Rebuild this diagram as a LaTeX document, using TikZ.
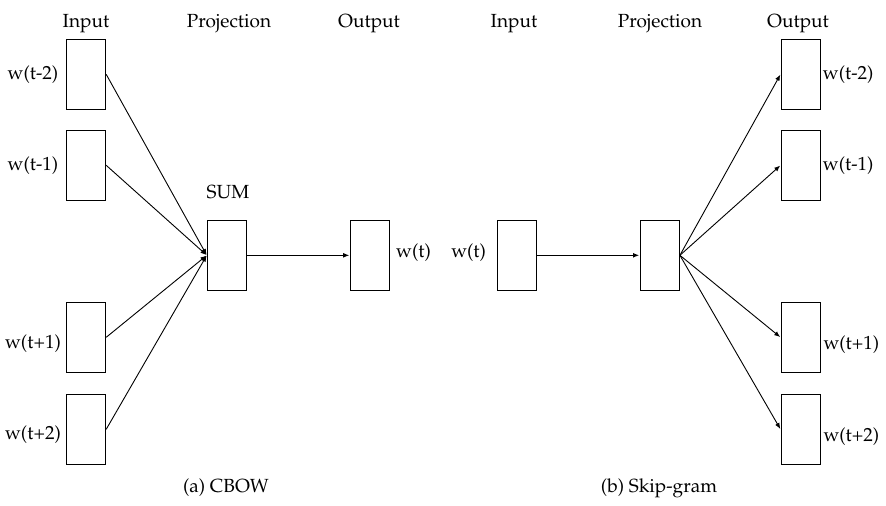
\documentclass[tikz,border=0pt]{standalone}
\IfFileExists{t1ppl.fd}{%
  \usepackage[T1]{fontenc}
  \renewcommand{\rmdefault}{ppl}
  \newcommand{\figfont}{\fontsize{9.5}{11}\selectfont}
}{%
  \usepackage{fontspec}
  \setmainfont{Liberation Serif}
  \newcommand{\figfont}{\fontsize{10.4}{12}\selectfont}
}
\usetikzlibrary{arrows.meta}
\tikzset{
  wbox/.style={draw, line width=0.5pt, minimum width=19.7pt, minimum height=35pt, inner sep=0pt},
  txt/.style={inner sep=0pt, font=\figfont},
  conn/.style={line width=0.45pt, -{Latex[length=3pt,width=2.4pt]}, shorten >=0.2pt}
}
\begin{document}
\begin{tikzpicture}[x=0.5pt,y=-0.5pt]
\useasboundingbox (0,0) rectangle (886,505);
% ---------- (a) CBOW ----------
\node[wbox] (i1) at (86,74.3) {};
\node[wbox] (i2) at (86,165.3) {};
\node[wbox] (i3) at (86,337.3) {};
\node[wbox] (i4) at (86,429.3) {};
\node[wbox] (sum) at (227,255.3) {};
\node[wbox] (out) at (369.8,255.3) {};
\node[txt] (li1) at (33,75) {w(t-2)};
\node[txt] (li2) at (33,166) {w(t-1)};
\node[txt] (li3) at (33,344) {w(t+1)};
\node[txt] (li4) at (33,435) {w(t+2)};
\node[txt, anchor=west] (lout) at ([xshift=2.9pt,yshift=1.2pt]out.east) {w(t)};
\node[txt, anchor=base] (hin) at (86,27.7) {Input};
\node[txt, anchor=base] (hpr) at (229,27.7) {Projection};
\node[txt, anchor=base] (hout) at (369,27.7) {Output};
\node[txt, anchor=base] (lsum) at (228,198.3) {SUM};
\node[txt, anchor=base] (capa) at (226,492.5) {(a) CBOW};
\draw[conn] (i1.east) -- (sum.west);
\draw[conn] (i2.east) -- (sum.west);
\draw[conn] (i3.east) -- (sum.west);
\draw[conn] (i4.east) -- (sum.west);
\draw[conn] (sum.east) -- (out.west);
% ---------- (b) Skip-gram ----------
\node[wbox] (sin) at (517,255.3) {};
\node[wbox] (spr) at (659.7,255.3) {};
\node[wbox] (o1) at (800.7,74.3) {};
\node[wbox] (o2) at (800.7,165.3) {};
\node[wbox] (o3) at (800.7,337.3) {};
\node[wbox] (o4) at (800.7,429.3) {};
\node[txt, anchor=east] (lsin) at ([xshift=-5.2pt,yshift=1.2pt]sin.west) {w(t)};
\node[txt, anchor=west] (lo1) at ([xshift=0.8pt,yshift=-0.3pt]o1.east) {w(t-2)};
\node[txt, anchor=west] (lo2) at ([xshift=0.8pt,yshift=-0.3pt]o2.east) {w(t-1)};
\node[txt, anchor=west] (lo3) at ([xshift=1.1pt,yshift=-3.5pt]o3.east) {w(t+1)};
\node[txt, anchor=west] (lo4) at ([xshift=1.1pt,yshift=-3.5pt]o4.east) {w(t+2)};
\node[txt, anchor=base] (hin2) at (514,27.7) {Input};
\node[txt, anchor=base] (hpr2) at (660,27.7) {Projection};
\node[txt, anchor=base] (hout2) at (798,27.7) {Output};
\node[txt, anchor=base] (capb) at (659,492.5) {(b) Skip-gram};
\draw[conn] (sin.east) -- (spr.west);
\draw[conn] (spr.east) -- (o1.west);
\draw[conn] (spr.east) -- (o2.west);
\draw[conn] (spr.east) -- (o3.west);
\draw[conn] (spr.east) -- (o4.west);
\end{tikzpicture}
\end{document}
